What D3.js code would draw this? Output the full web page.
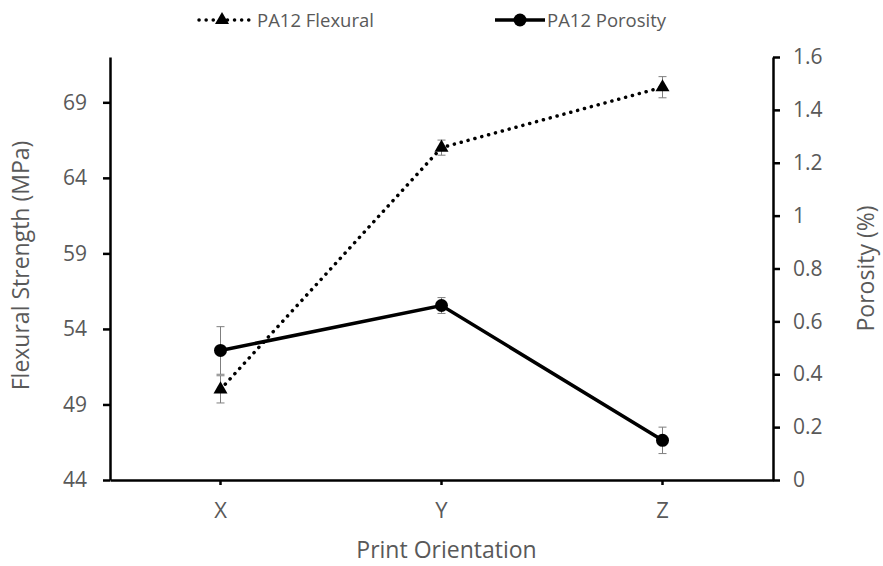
<!DOCTYPE html>
<html>
<head>
<meta charset="utf-8">
<script src="https://cdn.jsdelivr.net/npm/d3@7"></script>
<style>
  html, body { margin: 0; padding: 0; background: #fff; }
  svg text { font-family: "Segoe UI", "Open Sans", "Noto Sans", sans-serif; fill: #595959; }
</style>
</head>
<body>
<svg id="chart" width="883" height="566"></svg>
<script>
// Print orientations and measured values
const orientations = ["X", "Y", "Z"];
const flexuralMean = [50.0, 66.0, 70.0];   // MPa
const flexuralErr  = [0.9, 0.5, 0.7];
const porosityMean = [0.49, 0.66, 0.15];   // %
const porosityErr  = [0.09, 0.03, 0.05];
const leftTicks  = [44, 49, 54, 59, 64, 69];
const rightTicks = [0, 0.2, 0.4, 0.6, 0.8, 1, 1.2, 1.4, 1.6];

const svg = d3.select("#chart");
const m = { left: 110, right: 773, top: 57, bottom: 480 };

const x = d3.scaleBand().domain(orientations).range([m.left, m.right]).padding(0);
const yL = d3.scaleLinear().domain([44, 72]).range([m.bottom, m.top]);
const yR = d3.scaleLinear().domain([0, 1.6]).range([m.bottom, m.top]);
const cx = d => x(d) + x.bandwidth() / 2;

const flex = orientations.map((o, i) => ({ o, v: flexuralMean[i], e: flexuralErr[i] }));
const poro = orientations.map((o, i) => ({ o, v: porosityMean[i], e: porosityErr[i] }));

// Axes
const styleAxis = g => {
  g.select(".domain").attr("stroke", "#000").attr("stroke-width", 2.5);
  g.selectAll(".tick line").attr("stroke", "#000").attr("stroke-width", 2.5);
  g.selectAll(".tick text").style("font-size", "21px").attr("fill", "#595959");
};

svg.append("g").attr("transform", `translate(${m.left},0)`)
  .call(d3.axisLeft(yL).tickValues(leftTicks).tickSize(7).tickSizeOuter(0).tickPadding(16))
  .call(styleAxis);

svg.append("g").attr("transform", `translate(${m.right},0)`)
  .call(d3.axisRight(yR).tickValues(rightTicks).tickSize(7).tickSizeOuter(0).tickPadding(13)
    .tickFormat(d => d3.format("~g")(d)))
  .call(styleAxis);

svg.append("g").attr("transform", `translate(0,${m.bottom})`)
  .call(d3.axisBottom(x).tickSize(5).tickSizeOuter(0).tickPadding(17))
  .call(styleAxis)
  .call(g => g.selectAll(".tick text").attr("fill", "#111").style("font-size", "22px"));

// Axis titles
svg.append("text").attr("transform", `translate(29,${(m.top + m.bottom) / 2 - 3}) rotate(-90)`)
  .attr("text-anchor", "middle").style("font-size", "23px").text("Flexural Strength (MPa)");
svg.append("text").attr("transform", `translate(874,${(m.top + m.bottom) / 2}) rotate(-90)`)
  .attr("text-anchor", "middle").style("font-size", "23px").text("Porosity (%)");
svg.append("text").attr("x", (m.left + m.right) / 2 + 5).attr("y", 558)
  .attr("text-anchor", "middle").style("font-size", "23px").text("Print Orientation");

// Error bars
function errorBars(data, y) {
  const g = svg.append("g").attr("stroke", "#7f7f7f").attr("stroke-width", 1);
  data.forEach(d => {
    const X = cx(d.o);
    g.append("line").attr("x1", X).attr("x2", X).attr("y1", y(d.v - d.e)).attr("y2", y(d.v + d.e));
    [d.v - d.e, d.v + d.e].forEach(v =>
      g.append("line").attr("x1", X - 4).attr("x2", X + 4).attr("y1", y(v)).attr("y2", y(v)));
  });
}
errorBars(flex, yL);
errorBars(poro, yR);

// Lines
svg.append("path").datum(flex)
  .attr("d", d3.line().x(d => cx(d.o)).y(d => yL(d.v)))
  .attr("fill", "none").attr("stroke", "#000").attr("stroke-width", 3.5)
  .attr("stroke-dasharray", "0.1 7").attr("stroke-linecap", "round");
svg.append("path").datum(poro)
  .attr("d", d3.line().x(d => cx(d.o)).y(d => yR(d.v)))
  .attr("fill", "none").attr("stroke", "#000").attr("stroke-width", 3.5);

// Markers
const tri = d3.symbol().type(d3.symbolTriangle).size(85);
svg.append("g").selectAll("path").data(flex).join("path")
  .attr("d", tri).attr("transform", d => `translate(${cx(d.o)},${yL(d.v)})`).attr("fill", "#000");
svg.append("g").selectAll("circle").data(poro).join("circle")
  .attr("cx", d => cx(d.o)).attr("cy", d => yR(d.v)).attr("r", 6.5).attr("fill", "#000");

// Legend
const lg = svg.append("g");
lg.append("line").attr("x1", 199).attr("x2", 250).attr("y1", 20).attr("y2", 20)
  .attr("stroke", "#000").attr("stroke-width", 3.5).attr("stroke-dasharray", "0.1 7").attr("stroke-linecap", "round");
lg.append("path").attr("d", tri).attr("transform", "translate(222,20)").attr("fill", "#000");
lg.append("text").attr("x", 257).attr("y", 27).style("font-size", "18.5px").text("PA12 Flexural");
lg.append("line").attr("x1", 495).attr("x2", 545).attr("y1", 20).attr("y2", 20)
  .attr("stroke", "#000").attr("stroke-width", 3.5);
lg.append("circle").attr("cx", 520).attr("cy", 20).attr("r", 6.5).attr("fill", "#000");
lg.append("text").attr("x", 547).attr("y", 27).style("font-size", "18.5px").text("PA12 Porosity");
</script>
</body>
</html>
